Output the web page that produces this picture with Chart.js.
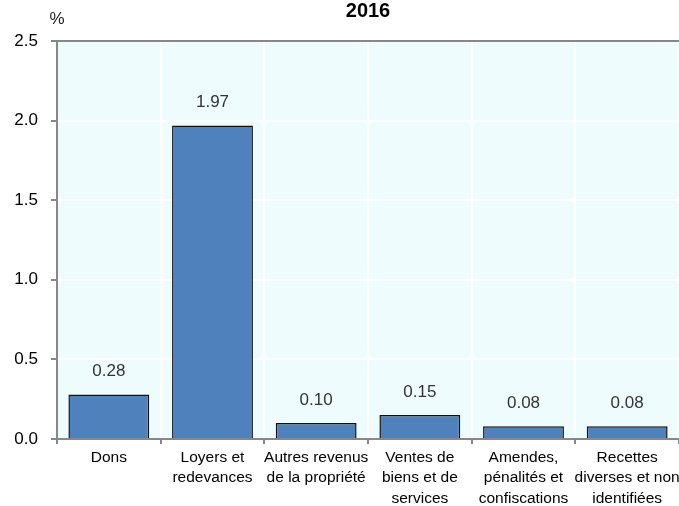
<!DOCTYPE html>
<html>
<head>
<meta charset="utf-8">
<script src="https://cdn.jsdelivr.net/npm/chart.js@4.4.1/dist/chart.umd.min.js"></script>
<style>
  html, body { margin: 0; padding: 0; background: #fff; overflow: hidden; }
  #wrap { width: 679px; height: 506px; }
</style>
</head>
<body>
<div id="wrap"><canvas id="chart" width="679" height="506"></canvas></div>
<script>
const categories = [
  ['Dons'],
  ['Loyers et', 'redevances'],
  ['Autres revenus', 'de la propriété'],
  ['Ventes de', 'biens et de', 'services'],
  ['Amendes,', 'pénalités et', 'confiscations'],
  ['Recettes', 'diverses et non', 'identifiées']
];
const values = [0.28, 1.97, 0.10, 0.15, 0.08, 0.08];
const yTicks = [0, 0.5, 1.0, 1.5, 2.0, 2.5];
const chartTitle = '2016';
const unitLabel = '%';

const FONT = '"Liberation Sans", Arial, sans-serif';

// plot background + title + unit + value labels
const decor = {
  id: 'decor',
  beforeDraw(chart) {
    const { ctx, chartArea: a } = chart;
    ctx.save();
    ctx.fillStyle = '#effcfd';
    ctx.fillRect(a.left, a.top, a.right - a.left, a.bottom - a.top);
    ctx.restore();
  },
  afterDraw(chart) {
    const { ctx, chartArea: a } = chart;
    ctx.save();
    ctx.fillStyle = '#000';
    ctx.font = 'bold 20px ' + FONT;
    ctx.textAlign = 'center';
    ctx.textBaseline = 'middle';
    ctx.fillText(chartTitle, (a.left + a.right) / 2, 11);
    ctx.font = '17px ' + FONT;
    ctx.fillStyle = '#222';
    ctx.fillText(unitLabel, a.left, 19);

    ctx.font = '17px ' + FONT;
    ctx.fillStyle = '#333';
    const meta = chart.getDatasetMeta(0);
    meta.data.forEach((bar, i) => {
      ctx.fillText(values[i].toFixed(2), bar.x, bar.y - 23);
    });
    ctx.restore();
  }
};

new Chart(document.getElementById('chart'), {
  type: 'bar',
  data: {
    labels: categories,
    datasets: [{
      data: values,
      backgroundColor: '#4f81bd',
      borderColor: '#111',
      borderWidth: 1.5,
      barPercentage: 0.78,
      categoryPercentage: 1
    }]
  },
  options: {
    responsive: false,
    animation: false,
    layout: { padding: { top: 41, right: -2, bottom: 0, left: 0 } },
    plugins: {
      legend: { display: false },
      tooltip: { enabled: false },
      title: { display: false }
    },
    scales: {
      x: {
        afterFit(scale) {
          scale.height = 67;
          scale.paddingLeft = 0;
          scale.paddingRight = 0;
        },
        grid: {
          color: '#ffffff',
          lineWidth: 2,
          tickColor: '#888',
          tickLength: 5,
          drawOnChartArea: true
        },
        border: { color: '#888', width: 2 },
        ticks: {
          color: '#000',
          font: { family: FONT, size: 15.5, lineHeight: 1.33 },
          padding: 3,
          maxRotation: 0,
          autoSkip: false
        }
      },
      y: {
        min: 0,
        max: 2.5,
        afterBuildTicks(scale) {
          scale.ticks = yTicks.map(v => ({ value: v }));
        },
        afterFit(scale) { scale.width = 57; },
        grid: {
          color: ctx => ctx.tick && ctx.tick.value === 2.5 ? '#888' : '#ffffff',
          lineWidth: 2,
          tickColor: '#888',
          tickLength: 6
        },
        border: { color: '#888', width: 2 },
        ticks: {
          color: '#000',
          font: { family: FONT, size: 17 },
          padding: 13,
          callback: v => Number(v).toFixed(1)
        }
      }
    }
  },
  plugins: [decor]
});
</script>
</body>
</html>
